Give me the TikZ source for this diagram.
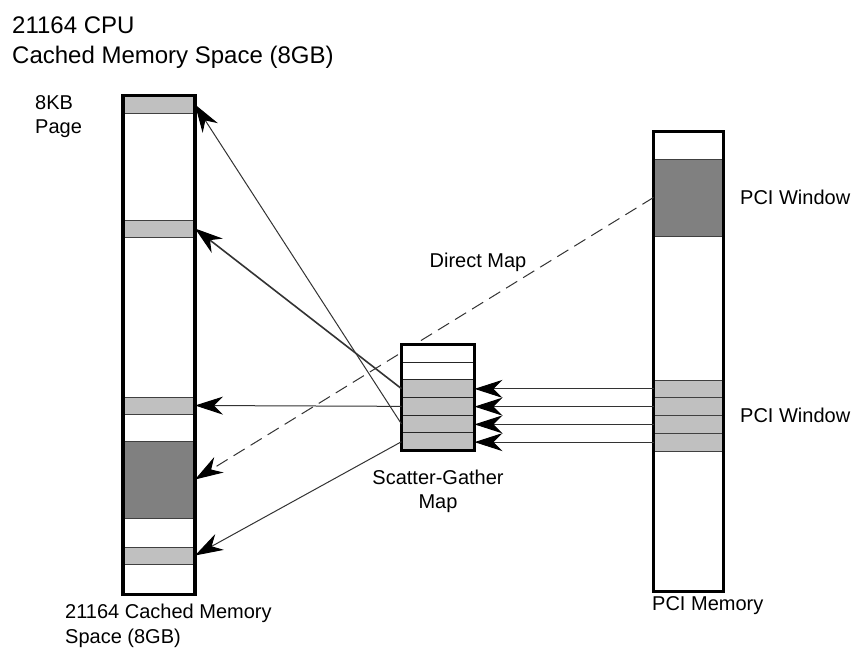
\documentclass[tikz,border=0pt]{standalone}
\usepackage{fontspec}
\setmainfont{Liberation Sans}
\usetikzlibrary{positioning,arrows.meta}
\definecolor{PageGray}{RGB}{192,192,192}
\definecolor{WinGray}{RGB}{128,128,128}

\begin{document}
\begin{tikzpicture}[x=1pt,y=-1pt,
memcol/.style={rectangle,draw=black,line width=3.5pt,inner sep=0pt,outer sep=0pt},
band/.style={rectangle,draw=black!75,line width=0.8pt,fill=PageGray,
minimum width=72pt,minimum height=17pt,inner sep=0pt,outer sep=0pt},
window/.style={band,fill=WinGray,minimum height=77pt},
sgrow/.style={rectangle,draw=black!85,line width=1pt,fill=white,
minimum width=73pt,minimum height=17.67pt,inner sep=0pt,outer sep=0pt},
arrow/.style={-{Stealth[length=28pt,width=18pt,inset=9pt,color=black]},draw=black!80,line width=1pt},
label/.style={font=\fontsize{20}{24}\selectfont,align=left,inner sep=0pt}
]
\fill[white] (0,0) rectangle (858,650);
\useasboundingbox (0,0) rectangle (858,650);

% CPU cached memory column
\node[band] (page1) at (159,104.5) {};
\node[band] (page2) at (159,228.5) {};
\node[band] (page3) at (159,405.5) {};
\node[window] (dmwin) at (159,479.5) {};
\node[band] (page4) at (159,555.5) {};
\node[memcol,minimum width=72pt,minimum height=499pt] (cpumem) at (159,345) {};

% PCI memory column
\node[window,minimum width=70pt] (pciwin) at (688.5,197.5) {};
\foreach \i in {1,...,4}
  \node[band,minimum width=70pt,minimum height=17.75pt] (pci\i) at (688.5,{380+17.75*(\i-0.5)}) {};
\node[memcol,minimum width=70pt,minimum height=460pt] (pcimem) at (688.5,361.5) {};

% direct map
\draw[arrow,dash pattern=on 13pt off 7pt] (pciwin.west) -- (dmwin.east);
\node[label] (dmlabel) at (478,262) {Direct Map};

% scatter-gather map
\foreach \i in {1,...,6}
  \node[sgrow] (sg\i) at (438,{344.5+17.67*(\i-0.5)}) {};
\foreach \i in {3,...,6}
  \node[sgrow,fill=PageGray] at (sg\i) {};
\node[memcol,line width=3pt,minimum width=73pt,minimum height=106pt] (sgmap) at (438,397.5) {};

\foreach \i in {1,...,4}
  \draw[arrow] (pci\i.west) -- (pci\i.west -| sgmap.east);

\draw[arrow] (sg5.west) -- (page1.east);
\draw[arrow,line width=1.6pt] (sg3.west) -- (page2.east);
\draw[arrow] (sg4.west) -- (page3.east);
\draw[arrow] (sg6.west) -- (page4.east);

% labels
\node[label,font=\fontsize{24}{30}\selectfont,anchor=north west] (title) at (12,17) {21164 CPU\\Cached Memory Space (8GB)};
\node[label,anchor=north west] (pagelbl) at (35,95) {8KB\\Page};
\node[label,anchor=west] (win1lbl) at (740,197) {PCI Window};
\node[label,anchor=west] (win2lbl) at (740,415) {PCI Window};
\node[label,anchor=west] (pcilbl) at (652,606) {PCI Memory};
\node[label,align=center] (sglbl) at (438,491) {Scatter-Gather\\Map};
\node[label,anchor=north west,font=\fontsize{20}{25}\selectfont] (cpulbl) at (65,604) {21164 Cached Memory\\Space (8GB)};
\end{tikzpicture}
\end{document}
